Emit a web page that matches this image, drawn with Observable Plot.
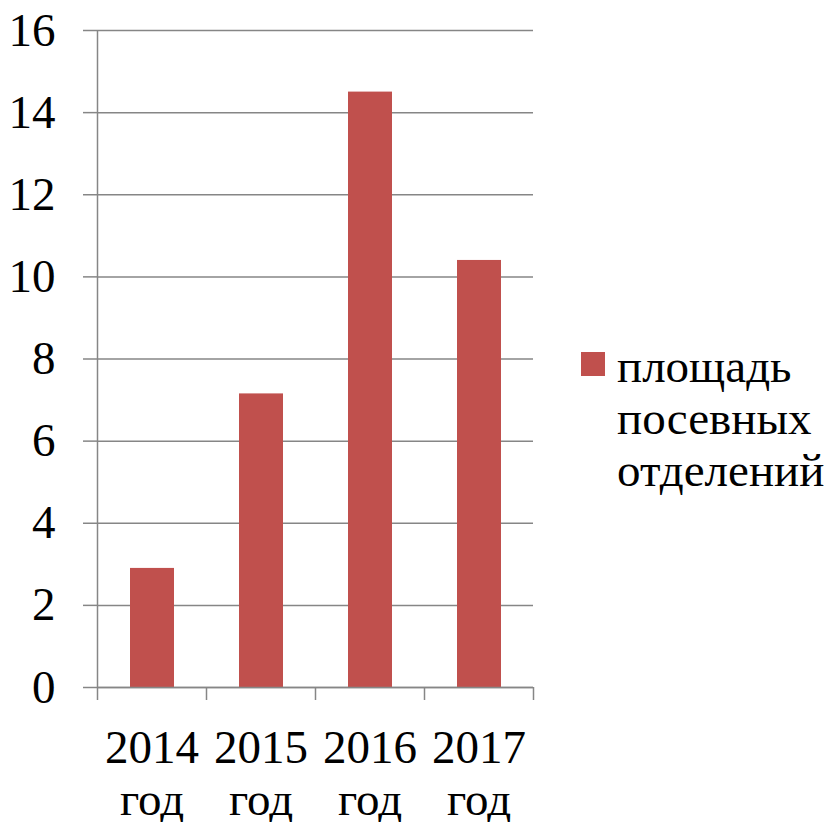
<!DOCTYPE html>
<html>
<head>
<meta charset="utf-8">
<script src="https://cdn.jsdelivr.net/npm/d3@7"></script>
<script src="https://cdn.jsdelivr.net/npm/@observablehq/plot@0.6"></script>
</head>
<body style="margin:0;padding:0;background:#fff;font-family:'Liberation Serif','Times New Roman',Times,'DejaVu Serif',serif">
<div id="wrap" style="position:relative;width:832px;height:822px"></div>
<script>
const years = ["2014", "2015", "2016", "2017"];
const yearSuffix = "год";
const values = [2.9, 7.15, 14.5, 10.4];
const yTicks = [0, 2, 4, 6, 8, 10, 12, 14, 16];
const seriesName = ["площадь", "посевных", "отделений"];
const barColor = "#C0504D";
const gridColor = "#868686";
const FONT = "'Liberation Serif','Times New Roman',Times,'DejaVu Serif',serif";
const FS = 47;

const data = years.map((y, i) => ({year: y, value: values[i], i}));
const bounds = d3.range(years.length + 1);
const centers = years.map((_, i) => i + 0.5);

const chart = Plot.plot({
  width: 832,
  height: 822,
  marginLeft: 97,
  marginRight: 299,
  marginTop: 30,
  marginBottom: 135,
  style: {fontFamily: FONT, fontSize: FS + "px", background: "#fff"},
  x: {type: "linear", domain: [0, years.length], axis: null},
  y: {domain: [0, 16], axis: null},
  marks: [
    Plot.gridY(yTicks, {stroke: gridColor, strokeOpacity: 1, strokeWidth: 1.5}),
    Plot.axisY({ticks: yTicks, tickSize: 14, tickPadding: 28, stroke: gridColor, strokeWidth: 1.5,
      fontSize: FS, fontFamily: FONT, fontVariant: "normal", fill: "#000", label: null}),
    Plot.rectY(data, {x1: "i", x2: d => d.i + 1, y: "value", insetLeft: 33, insetRight: 32, fill: barColor}),
    Plot.ruleX([0], {y1: 0, y2: 16, stroke: gridColor, strokeWidth: 1.5}),
    Plot.ruleY([0], {stroke: gridColor, strokeWidth: 1.5}),
    Plot.axisX({ticks: bounds, tickSize: 13, stroke: gridColor, strokeWidth: 1.5, tickFormat: () => "", label: null}),
    Plot.axisX({ticks: centers, tickSize: 0, tickPadding: 39, fontSize: FS, fontFamily: FONT, fontVariant: "normal", fill: "#000", lineHeight: 1.1,
      tickFormat: v => years[Math.floor(v)] + "\n" + yearSuffix, label: null})
  ]
});

const wrap = document.getElementById("wrap");
wrap.appendChild(chart);
const lg = document.createElement("div");
lg.setAttribute("style", "position:absolute;left:581px;top:340px;font-family:" + FONT + ";font-size:" + FS + "px;line-height:52px;color:#000");
const sw = document.createElement("div");
sw.setAttribute("style", "position:absolute;left:0;top:12px;width:24px;height:24px;background:" + barColor);
const tx = document.createElement("div");
tx.setAttribute("style", "margin-left:36px;white-space:pre");
tx.textContent = seriesName.join("\n");
lg.appendChild(sw);
lg.appendChild(tx);
wrap.appendChild(lg);
</script>
</body>
</html>
